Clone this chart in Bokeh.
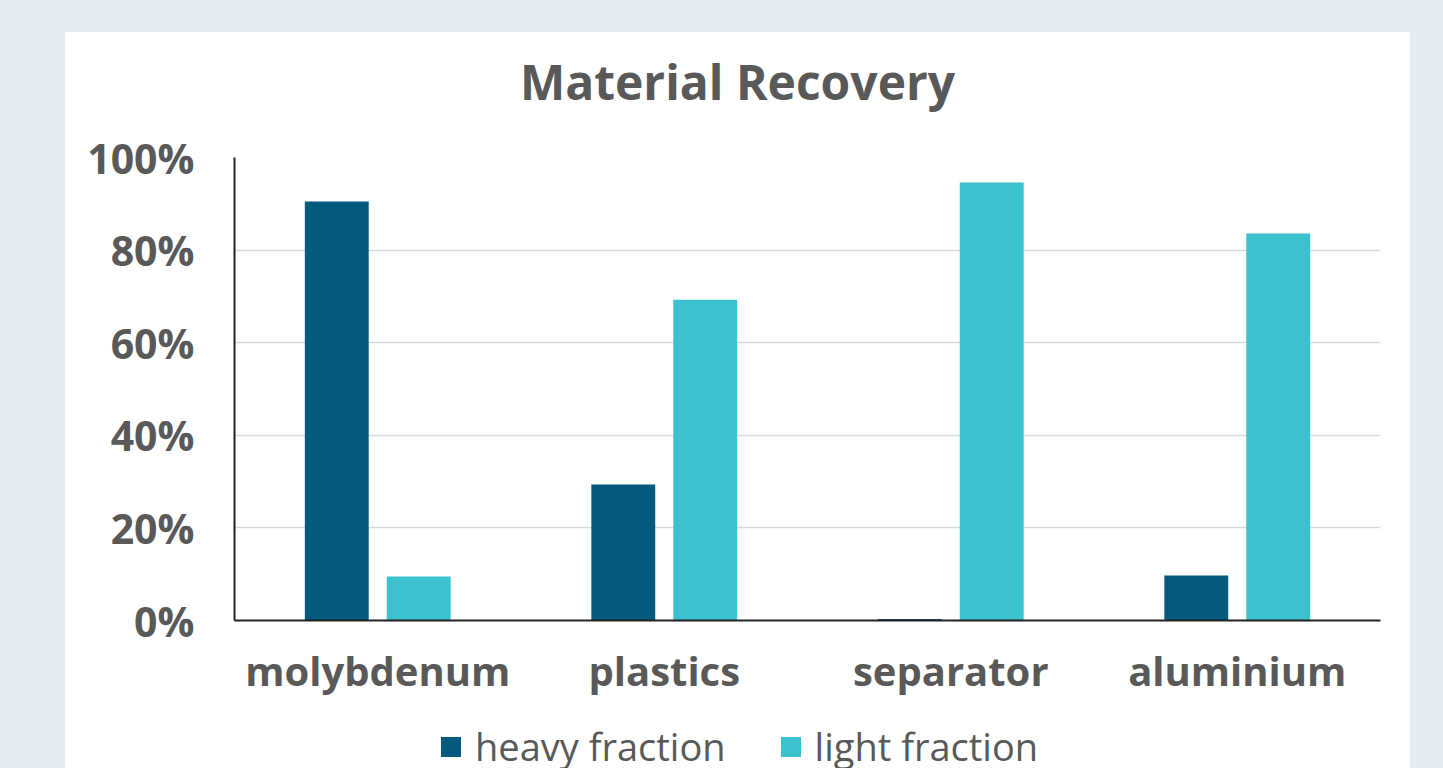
from bokeh.plotting import figure
from bokeh.models import (ColumnDataSource, FactorRange, FixedTicker, PrintfTickFormatter,
                          Legend, LegendItem, Range1d, Div)
from bokeh.transform import dodge
from bokeh.layouts import column
from bokeh.embed import file_html
from bokeh.resources import INLINE

categories = ["molybdenum", "plastics", "separator", "aluminium"]
heavy = [90.5, 29.4, 0.3, 9.7]
light = [9.5, 69.3, 94.6, 83.6]
series_names = ["heavy fraction", "light fraction"]
series_colors = ["#045A7D", "#3BC2CE"]
y_ticks = [0, 20, 40, 60, 80, 100]
title_text = "Material Recovery"

TEXT = "#595959"
FONT = "Open Sans"

src = ColumnDataSource(data=dict(cat=categories, heavy=heavy, light=light))

title = Div(text=title_text, width=1345, height=63,
            styles={"font-family": "'Open Sans'", "font-size": "48px", "font-weight": "bold",
                    "color": TEXT, "text-align": "center", "line-height": "normal",
                    "overflow": "hidden"})
title.margin = (17, 0, 0, 0)

p = figure(x_range=FactorRange(factors=categories, range_padding=0),
           y_range=Range1d(0, 100),
           width=1345, height=596, output_backend="svg", toolbar_location=None,
           min_border_left=169, min_border_right=30, min_border_top=45, min_border_bottom=88)
p.background_fill_color = "white"
p.border_fill_color = "white"
p.outline_line_color = None

r1 = p.vbar(x=dodge("cat", -0.143, range=p.x_range), top="heavy", width=0.223,
            source=src, fill_color=series_colors[0], line_color=None)
r2 = p.vbar(x=dodge("cat", 0.143, range=p.x_range), top="light", width=0.223,
            source=src, fill_color=series_colors[1], line_color=None)

p.xgrid.grid_line_color = None
p.ygrid.grid_line_color = "#D9D9D9"
p.ygrid.grid_line_width = 1.5

p.yaxis.ticker = FixedTicker(ticks=y_ticks)
p.yaxis.formatter = PrintfTickFormatter(format="%d%%")
for ax in (p.xaxis, p.yaxis):
    ax.major_tick_line_color = None
    ax.minor_tick_line_color = None
    ax.major_tick_out = 0
    ax.major_tick_in = 0
    ax.axis_line_color = "#222222"
    ax.axis_line_width = 2
    ax.major_label_text_font = FONT
    ax.major_label_text_font_style = "bold"
    ax.major_label_text_color = TEXT
p.yaxis.major_label_text_font_size = "41px"
p.yaxis.major_label_standoff = 40
p.xaxis.major_label_text_font_size = "40px"
p.xaxis.major_label_standoff = 22

# legend strip below the chart (its bars sit below the visible y range)
lg = figure(width=1345, height=60, x_range=Range1d(0, 100), y_range=Range1d(1000, 1001),
            output_backend="svg", toolbar_location=None,
            min_border=0, min_border_left=0, min_border_right=0,
            min_border_top=0, min_border_bottom=0)
lg.axis.visible = False
lg.grid.visible = False
lg.outline_line_color = None
lg.background_fill_color = None
lg.border_fill_color = "white"
d1 = lg.vbar(x="heavy", top="heavy", width=1, source=src,
             fill_color=series_colors[0], line_color=None)
d2 = lg.vbar(x="light", top="light", width=1, source=src,
             fill_color=series_colors[1], line_color=None)

legend = Legend(items=[LegendItem(label=series_names[0], renderers=[d1]),
                       LegendItem(label=series_names[1], renderers=[d2])],
                location=(204, -4), orientation="horizontal",
                glyph_width=25, glyph_height=25, label_standoff=12, spacing=52,
                padding=0, margin=0, border_line_color=None, background_fill_alpha=0,
                label_text_font=FONT, label_text_font_size="38px", label_text_color=TEXT)
lg.add_layout(legend, "center")

panel = column(title, p, lg, width=1345, height=736, spacing=0,
               styles={"background-color": "white"})
panel.margin = (32, 0, 0, 65)
page = column(panel, width=1443, height=768, spacing=0,
              styles={"background-color": "#E4ECF4"})

open("out.html", "w").write(file_html(page, INLINE))
